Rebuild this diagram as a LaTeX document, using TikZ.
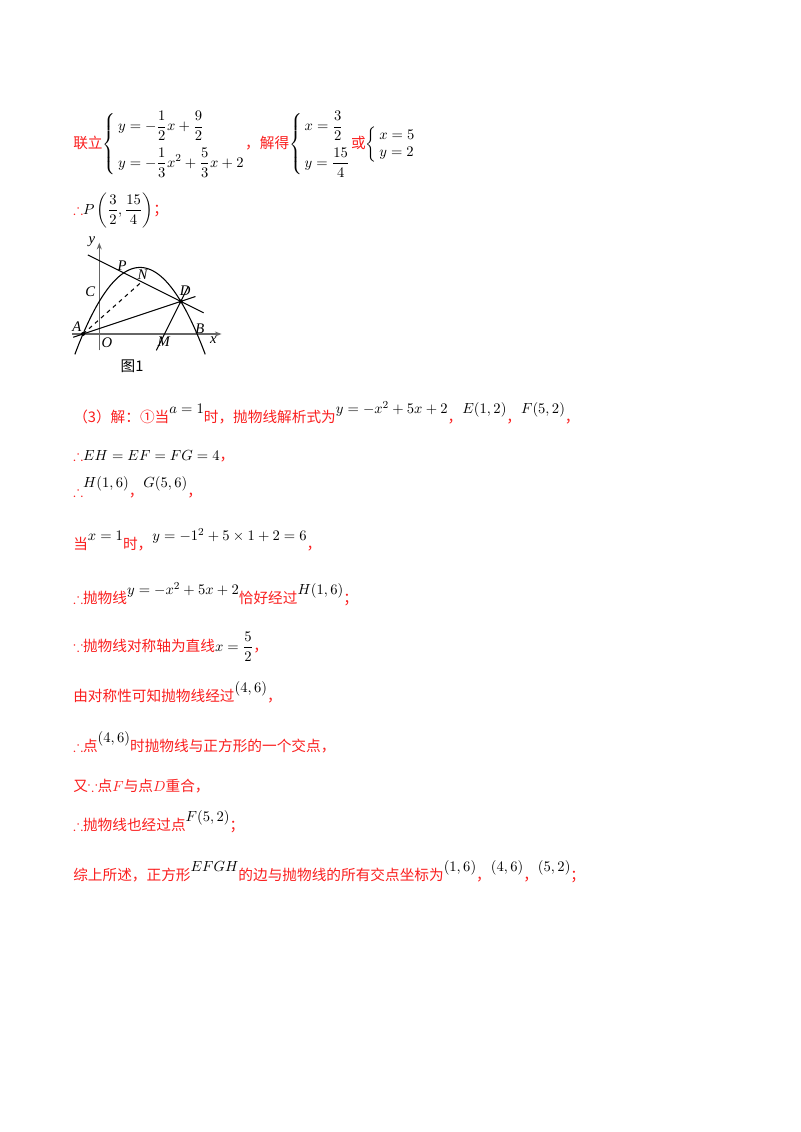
\documentclass[tikz,border=0pt]{standalone}
\usepackage{amsmath,amssymb}
\usepackage{fontspec}
\usetikzlibrary{arrows.meta}
\setmainfont{Liberation Serif}
\newfontfamily\cjk{Noto Sans CJK SC}
\definecolor{rd}{RGB}{250,30,30}
\newcommand{\R}[1]{{\color{rd}\cjk #1}}
\newcommand{\up}[1]{\raisebox{1.2ex}{#1}}
\newcommand{\sys}[1]{\left\{\begin{array}{@{\,}l@{}}#1\end{array}\right.}
\begin{document}
\begin{tikzpicture}[x=0.75pt,y=-0.75pt,
  txt/.style={anchor=base west,inner sep=0,font=\fontsize{11}{13}\selectfont},
  lab/.style={font=\itshape\fontsize{11}{13}\selectfont,inner sep=1pt},
  ln/.style={line width=0.8pt}]
\useasboundingbox (0,0) rectangle (800,1132);
\node[txt] (l1) at (73,148) {\R{联立}$\sys{y=-\dfrac12x+\dfrac92\\[9pt] y=-\dfrac13x^2+\dfrac53x+2}$\R{，解得}$\sys{x=\dfrac32\\[9pt] y=\dfrac{15}{4}}$\R{或}$\sys{x=5\\y=2}$};
\node[txt] (l2) at (73,214) {\R{$\therefore$}$P\left(\dfrac32,\dfrac{15}{4}\right)$\R{；}};
% figure
\begin{scope}[shift={(99.3,334)},x={(12.225pt,0)},y={(0,12.225pt)}]
\coordinate (O) at (0,0);
\coordinate (A) at (-1,0);
\coordinate (D) at (5,2);
\coordinate (N) at (2.6,3.2);
\draw[gray!80!black,line width=0.9pt,-{Stealth[length=5pt]}] (-1.65,0) -- (7.5,0);
\draw[gray!80!black,line width=0.9pt,-{Stealth[length=5pt]}] (0,-1) -- (0,5.6);
\draw[ln,domain=-1.5:6.5,samples=80] plot (\x,{-\x*\x/3+5*\x/3+2});
\draw[ln] (-0.7,4.85) -- (6.4,1.3);
\draw[ln] (-1.6,-0.2) -- (5.9,2.3);
\draw[ln] (3.5,-1) -- (5.45,2.9);
\draw[ln,dashed] (A) -- (N);
\fill (A) circle (1.5pt) (D) circle (1.5pt);
\node[lab,anchor=east] (ly) at (-0.15,5.65) {y};
\node[lab,anchor=north west] (lo) at (0.05,-0.15) {O};
\node[lab,anchor=south east] (la) at (-1.0,0.05) {A};
\node[lab,anchor=east] (lc) at (-0.15,2.6) {C};
\node[lab,anchor=south] (lp) at (1.4,3.8) {P};
\node[lab,anchor=south] (ln) at (2.65,3.25) {N};
\node[lab,anchor=south west] (ld) at (4.85,2.25) {D};
\node[lab,anchor=south west] (lb) at (5.8,-0.1) {B};
\node[lab,anchor=north] (lm) at (3.95,-0.1) {M};
\node[lab,anchor=north] (lx) at (7.0,-0.1) {x};
\end{scope}
\node[font=\cjk\fontsize{11}{13}\selectfont] (fig) at (132,366) {图1};
% text lines
\node[txt] (t1) at (73,422) {\R{（3）解：①当}\up{$a=1$}\R{时，抛物线解析式为}\up{$y=-x^2+5x+2$}\R{，}\up{$E(1,2)$}\R{，}\up{$F(5,2)$}\R{，}};
\node[txt] (t2) at (73,460) {\R{$\therefore$}$EH=EF=FG=4$\R{，}};
\node[txt] (t3) at (73,496) {\R{$\therefore$}\up{$H(1,6)$}\R{，}\up{$G(5,6)$}\R{，}};
\node[txt] (t4) at (73,549) {\R{当}\up{$x=1$}\R{时，}\up{$y=-1^2+5\times1+2=6$}\R{，}};
\node[txt] (t5) at (73,603) {\R{$\therefore$抛物线}\up{$y=-x^2+5x+2$}\R{恰好经过}\up{$H(1,6)$}\R{；}};
\node[txt] (t6) at (73,651) {\R{$\because$抛物线对称轴为直线}$x=\dfrac52$\R{，}};
\node[txt] (t7) at (73,701) {\R{由对称性可知抛物线经过}\up{$(4,6)$}\R{，}};
\node[txt] (t8) at (73,751) {\R{$\therefore$点}\up{$(4,6)$}\R{时抛物线与正方形的一个交点，}};
\node[txt] (t9) at (73,791) {\R{又$\because$点$F$与点$D$重合，}};
\node[txt] (t10) at (73,830) {\R{$\therefore$抛物线也经过点}\up{$F(5,2)$}\R{；}};
\node[txt] (t11) at (73,880) {\R{综上所述，正方形}\up{$EFGH$}\R{的边与抛物线的所有交点坐标为}\up{$(1,6)$}\R{，}\up{$(4,6)$}\R{，}\up{$(5,2)$}\R{；}};
\end{tikzpicture}
\end{document}
